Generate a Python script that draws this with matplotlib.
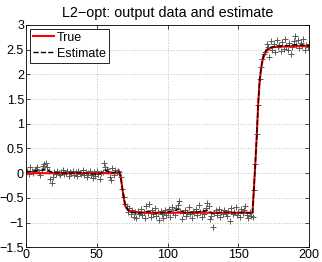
import numpy as np
import matplotlib.pyplot as plt

plt.rcParams['font.family'] = ['Liberation Sans', 'DejaVu Sans']

# measured samples, one per time step 0..200
y_data = [
    0.03, 0.05, -0.02, 0.12, 0.04, 0.01, 0.06, 0.08, 0.13, 0.02,
    -0.03, 0.07, 0.15, 0.18, 0.20, 0.12, 0.05, -0.12, -0.20, -0.08,
    0.03, -0.02, 0.05, 0.01, -0.04, 0.02, 0.06, -0.01, 0.00, 0.04,
    -0.05, 0.03, 0.01, 0.05, -0.03, 0.02, -0.06, 0.04, 0.00, -0.02,
    0.07, -0.04, 0.03, -0.08, 0.01, 0.05, -0.03, -0.10, 0.02, -0.05,
    0.04, -0.02, -0.12, 0.00, 0.03, 0.21, 0.12, 0.08, 0.05, -0.08,
    -0.14, 0.10, -0.03, 0.06, 0.02, 0.05, 0.03,
    -0.08, -0.32, -0.48, -0.62, -0.66, -0.78, -0.70, -0.82, -0.74, -0.88,
    -0.79, -0.90, -0.76, -0.83,
    -0.72, -0.85, -0.78, -0.91, -0.66, -0.80, -0.62, -0.88, -0.75,
    -0.83, -0.70, -0.86, -0.79, -0.94, -0.77, -0.82, -0.90, -0.74, -0.85,
    -0.80, -0.73, -0.88, -0.68, -0.79, -0.84, -0.70, -0.65, -0.57, -0.76,
    -0.92, -0.81, -0.74, -0.86, -0.78, -0.69, -0.83, -0.90, -0.77, -0.80,
    -0.72, -0.85, -0.64, -0.79, -0.88, -0.76, -0.82, -0.70, -0.60, -0.66,
    -0.93, -0.87, -1.08, -0.80, -0.75, -0.84, -0.72, -0.89, -0.78, -0.83,
    -0.74, -0.80, -0.86, -0.77, -0.96, -0.70, -0.82, -0.79, -0.68, -0.85,
    -0.78, -0.88, -0.73, -0.81, -0.75, -0.66, -0.84, -0.90, -0.78, -0.86,
    -0.88,
    -0.35, 0.18, 0.80, 1.38, 1.90, 2.15, 2.30, 2.42, 2.45, 2.62,
    2.55, 2.35, 2.68, 2.50, 2.62, 2.45, 2.70, 2.55, 2.60, 2.48,
    2.66, 2.52, 2.72, 2.58, 2.50, 2.63, 2.42, 2.55, 2.68, 2.78,
    2.60, 2.70, 2.53, 2.64, 2.57, 2.72, 2.50, 2.60, 2.55, 2.62,
]
t_data = np.arange(len(y_data))

# true output, read at breakpoints
t_true = [0, 66, 67, 68, 69, 70, 71, 72, 74, 77, 80, 160, 161, 162, 163, 164,
          165, 166, 167, 168, 170, 172, 175, 180, 190, 200]
y_true = [0, 0, -0.1, -0.3, -0.5, -0.65, -0.71, -0.74, -0.77, -0.79, -0.8, -0.8,
          -0.3, 0.2, 0.75, 1.4, 1.85, 2.1, 2.27, 2.38, 2.48, 2.52, 2.55, 2.56,
          2.57, 2.57]

# L2-opt estimate
t_est = [0, 5, 10, 14, 18, 22, 30, 40, 47, 52, 56, 60, 64, 66, 67, 68, 69, 70,
         71, 72, 74, 77, 80, 86, 92, 100, 108, 112, 120, 128, 132, 140, 148,
         155, 160, 161, 162, 163, 164, 165, 166, 167, 168, 170, 173, 176, 180,
         185, 190, 195, 200]
y_est = [0.03, 0.04, 0.05, 0.09, 0.02, 0.01, 0.0, 0.01, -0.02, -0.01, 0.06, 0.0,
         0.03, 0.02, -0.1, -0.31, -0.5, -0.63, -0.7, -0.75, -0.79, -0.8, -0.81,
         -0.77, -0.81, -0.79, -0.73, -0.8, -0.79, -0.75, -0.82, -0.79, -0.8,
         -0.79, -0.82, -0.3, 0.2, 0.77, 1.4, 1.86, 2.12, 2.28, 2.4, 2.5, 2.55,
         2.56, 2.57, 2.58, 2.6, 2.59, 2.58]

fig = plt.figure(figsize=(3.22, 2.62), dpi=100)
ax = fig.add_axes([0.081, 0.056, 0.879, 0.849])

ax.plot(t_data, y_data, '+', color='0.35', markersize=4, markeredgewidth=0.7)
ax.plot(t_true, y_true, '-', color='red', linewidth=1.5, label='True')
ax.plot(t_est, y_est, '--', color='black', linewidth=1.0, label='Estimate')

ax.set_xlim(0, 200)
ax.set_ylim(-1.5, 3)
ax.set_xticks([0, 50, 100, 150, 200])
ax.set_yticks(np.arange(-1.5, 3.01, 0.5))
ax.set_yticklabels(['\u22121.5', '\u22121', '\u22120.5', '0', '0.5', '1', '1.5', '2', '2.5', '3'])
ax.tick_params(direction='in', top=True, right=True, labelsize=9, length=3, width=0.5, pad=1.5)
ax.grid(True, linestyle=':', color='0.75', linewidth=0.7)
for s in ax.spines.values():
    s.set_linewidth(0.6)

ax.set_title('L2\u2212opt: output data and estimate', fontsize=10.4, pad=6)
leg = ax.legend(loc='upper left', fontsize=9, fancybox=False, framealpha=1,
                edgecolor='black', borderpad=0.25, handlelength=1.7,
                handletextpad=0.2, borderaxespad=0.3, labelspacing=0.3)
leg.get_frame().set_linewidth(0.6)

fig.savefig('out.png', dpi=100)
